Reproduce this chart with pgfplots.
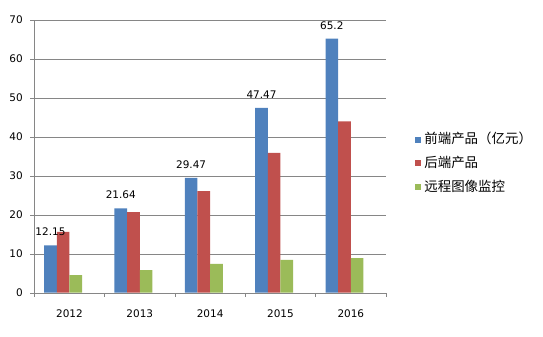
\documentclass[border=0pt]{standalone}
\usepackage{fontspec}
\setmainfont{DejaVu Sans}
\newfontfamily\cjk{Noto Sans CJK SC}
\usepackage{pgfplots}
\pgfplotsset{compat=1.18}
\definecolor{cblue}{HTML}{4F81BD}
\definecolor{cred}{HTML}{C0504D}
\definecolor{cgreen}{HTML}{9BBB59}
\definecolor{cgrid}{HTML}{868686}
\begin{document}
\begin{tikzpicture}
\begin{axis}[
  at={(0,0)}, anchor=south west,
  scale only axis, width=351.7bp, height=272.7bp,
  xmin=0.5, xmax=5.5, ymin=0, ymax=70,
  ytick={0,10,...,70},
  xtick={0.5,1.5,...,5.5},
  x tick label as interval,
  xticklabels={2012,2013,2014,2015,2016},
  axis x line*=bottom, axis y line*=left,
  axis line style={cgrid, -},
  tick style={cgrid, thin},
  tick align=outside,
  major tick length=4bp,
  ymajorgrids, grid style={cgrid, thin},
  tick label style={font=\fontsize{10.5}{12}\selectfont, /pgf/number format/assume math mode=true},
  xticklabel style={yshift=-10bp},
  yticklabel style={xshift=-4bp},
  legend style={at={(1.083,0.605)}, anchor=north west, draw=none, fill=none,
    font=\cjk\fontsize{13.5}{15}\selectfont, row sep=0bp, inner sep=0pt,
    nodes={inner sep=0pt, text height=11bp, text depth=3bp, outer sep=0pt, minimum height=23.7bp},
    /tikz/every odd column/.append style={column sep=3bp}},
  legend cell align=left,
  legend image code/.code={\fill[#1] (0bp,-3bp) rectangle (6bp,3bp);},
  bar width=0.18,
]
\addplot[ybar, bar shift=-0.27, fill=cblue, draw=none,
  nodes near coords, point meta=explicit symbolic,
  every node near coord/.append style={font=\fontsize{10.5}{12}\selectfont, anchor=base, yshift=9.5bp, xshift=-19bp, text=black}]
  coordinates {(1,12.15)[12.15] (2,21.64)[21.64] (3,29.47)[29.47] (4,47.47)[47.47] (5,65.2)[65.2]};
\addplot[ybar, bar shift=-0.09, fill=cred, draw=none]
  coordinates {(1,15.6) (2,20.7) (3,26.1) (4,35.9) (5,44.0)};
\addplot[ybar, bar shift=0.09, fill=cgreen, draw=none]
  coordinates {(1,4.5) (2,5.8) (3,7.4) (4,8.4) (5,8.9)};
\legend{前端产品（亿元）,后端产品,远程图像监控}
\end{axis}
\pgfresetboundingbox
\path (-34.3bp,-44.3bp) rectangle (508.7bp,292.7bp);
\end{tikzpicture}
\end{document}
